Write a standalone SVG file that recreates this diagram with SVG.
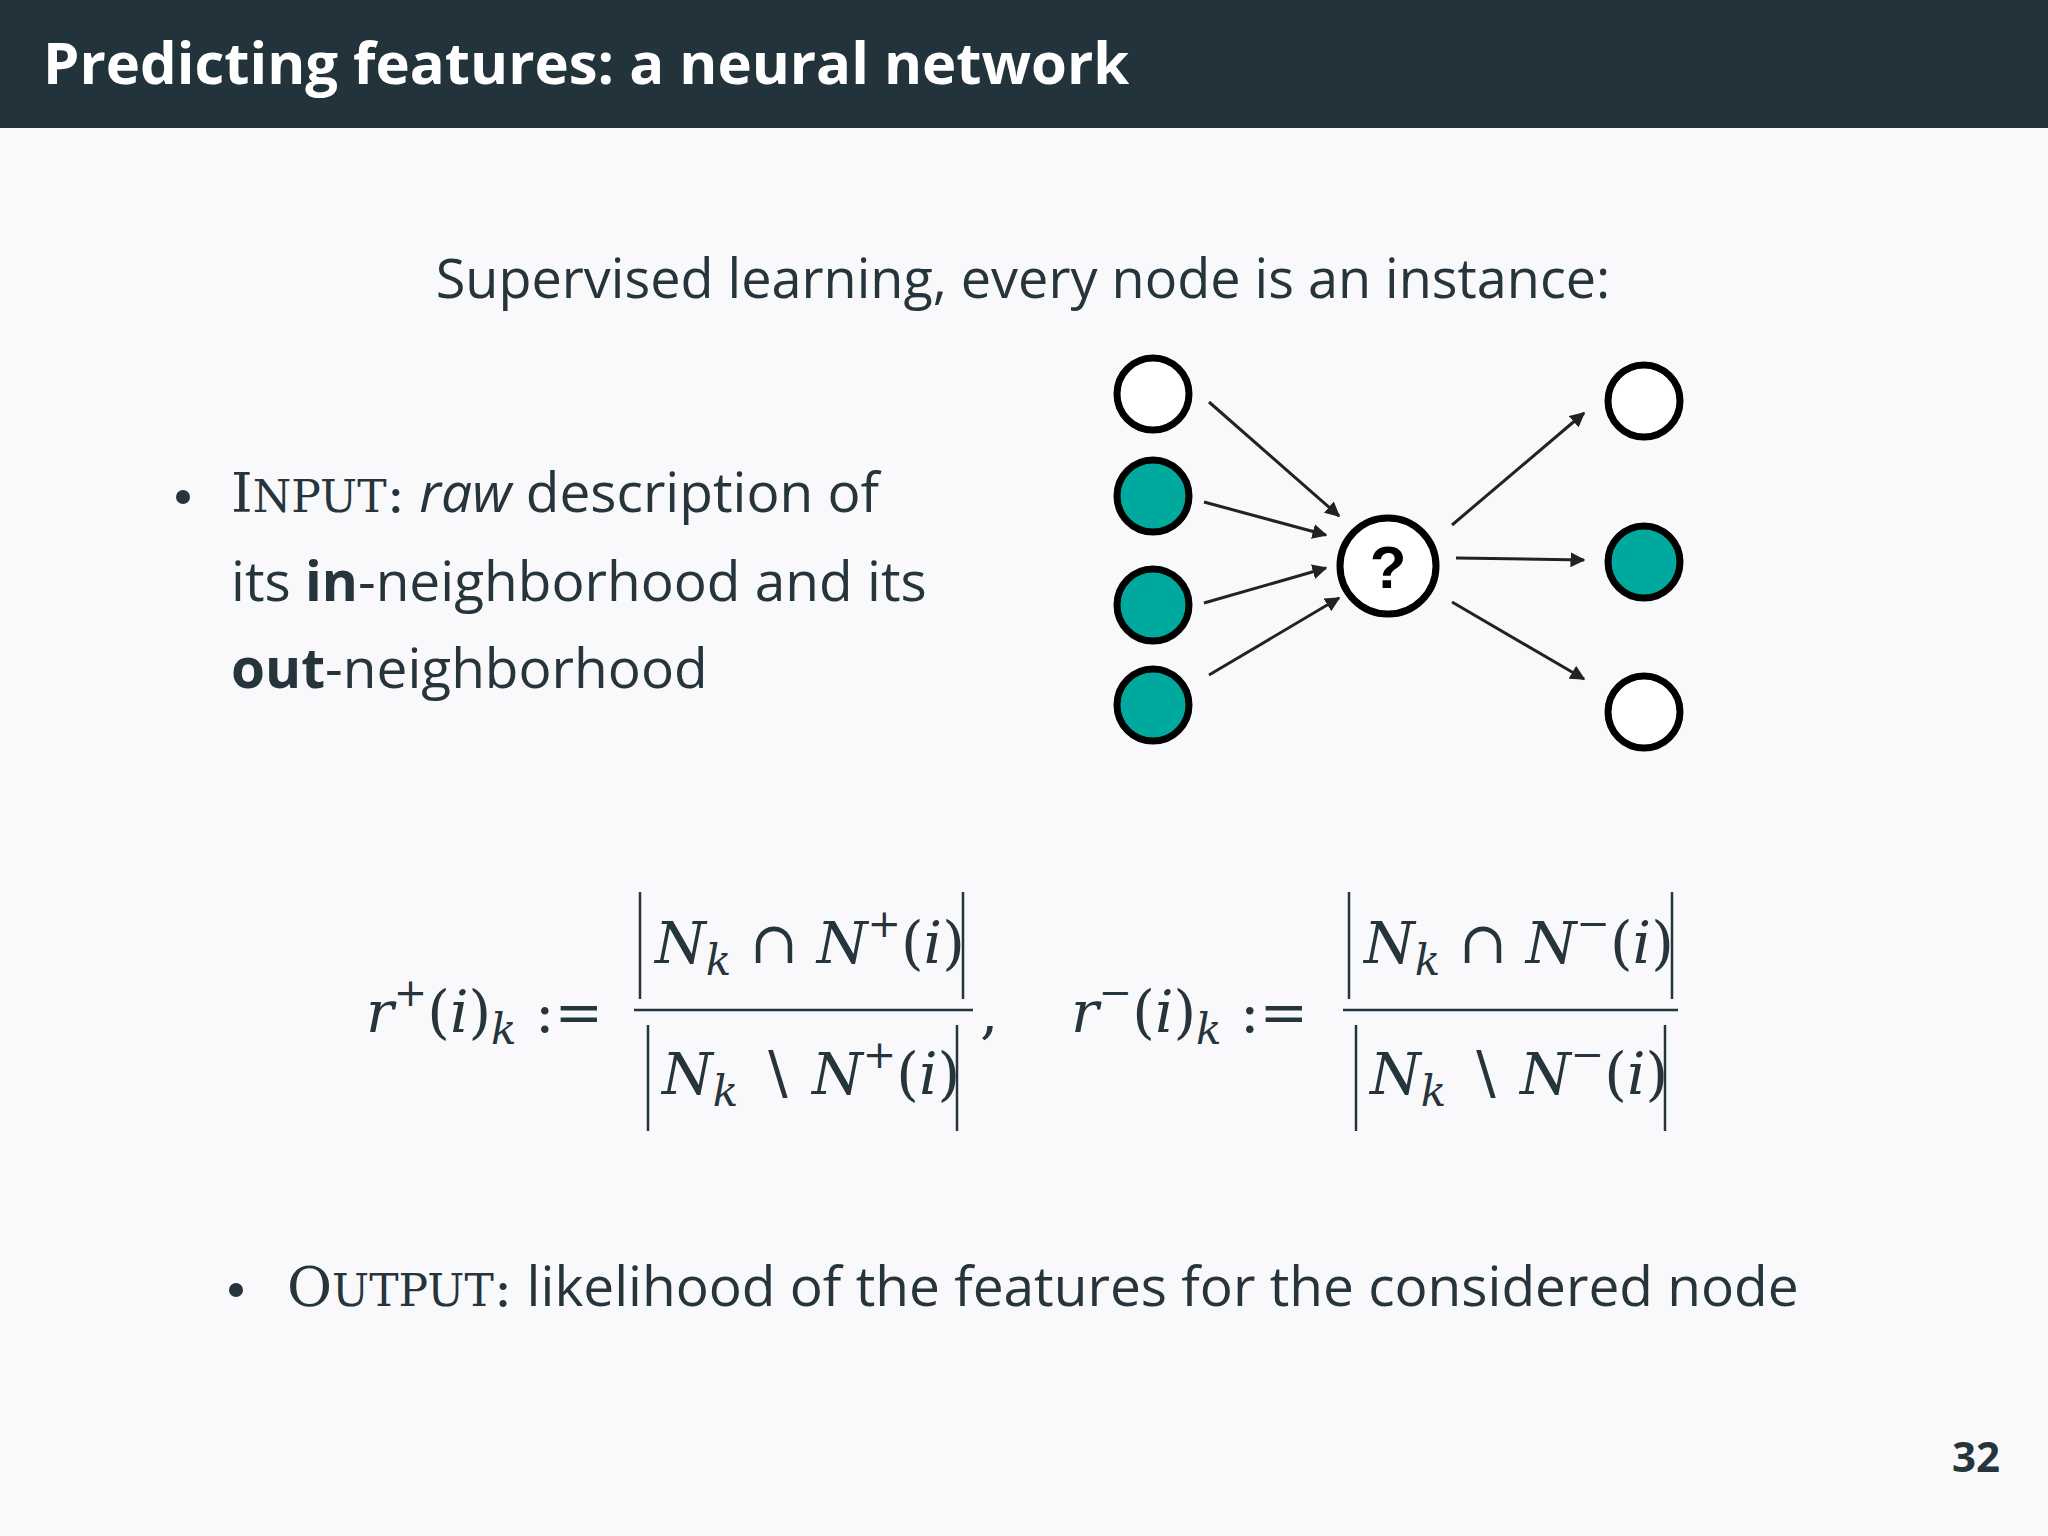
<svg xmlns="http://www.w3.org/2000/svg" width="2048" height="1536" viewBox="0 0 2048 1536">
<defs>
<marker id="ah" viewBox="0 0 10 10" refX="9" refY="5" markerWidth="5" markerHeight="5" orient="auto"><path d="M0,0 L10,5 L0,10 z" fill="#222"/></marker>
<style>
.t{font-family:"Open Sans","DejaVu Sans",sans-serif;fill:#26343c}
.m{font-family:"DejaVu Serif","Liberation Serif",serif;fill:#26343c;font-size:58px}
.i{font-style:italic}
.w{fill:#fff;stroke:#000;stroke-width:7}
.g{fill:#00a99d;stroke:#000;stroke-width:7}
.e{stroke:#222;stroke-width:3;fill:none;marker-end:url(#ah)}
.b{stroke:#26343c;stroke-width:2.5}
</style>
</defs>
<rect width="2048" height="1536" fill="#f9f9fc"/>
<rect width="2048" height="128" fill="#23333b"/>
<text x="43" y="84" font-family="'Open Sans','DejaVu Sans',sans-serif" font-size="58" font-weight="bold" fill="#fff">Predicting features: a neural network</text>
<text class="t" x="1023" y="298" font-size="54" text-anchor="middle">Supervised learning, every node is an instance:</text>
<circle cx="183" cy="497" r="7" fill="#26343c"/>
<text class="t" x="231" y="512" font-size="55"><tspan font-family="'DejaVu Serif',serif">I<tspan font-size="44">NPUT</tspan>:</tspan> <tspan font-style="italic">raw</tspan> description of</text>
<text class="t" x="231" y="601" font-size="55">its <tspan font-weight="bold">in</tspan>-neighborhood and its</text>
<text class="t" x="231" y="688" font-size="55"><tspan font-weight="bold">out</tspan>-neighborhood</text>
<g id="connectors">
<line class="e" x1="1209" y1="402" x2="1339" y2="516"/>
<line class="e" x1="1204" y1="502" x2="1326" y2="535"/>
<line class="e" x1="1204" y1="603" x2="1326" y2="568"/>
<line class="e" x1="1209" y1="675" x2="1339" y2="598"/>
<line class="e" x1="1452" y1="525" x2="1584" y2="413"/>
<line class="e" x1="1456" y1="558" x2="1584" y2="560"/>
<line class="e" x1="1452" y1="602" x2="1584" y2="679"/>
</g>
<g id="in1"><circle class="w" cx="1153" cy="394" r="36"/></g>
<g id="in2"><circle class="g" cx="1153" cy="496" r="36"/></g>
<g id="in3"><circle class="g" cx="1153" cy="605" r="36"/></g>
<g id="in4"><circle class="g" cx="1153" cy="705" r="36"/></g>
<g id="center"><circle class="w" cx="1388" cy="566" r="48"/><text x="1388" y="588" text-anchor="middle" font-family="'Liberation Sans',sans-serif" font-weight="bold" font-size="60">?</text></g>
<g id="out1"><circle class="w" cx="1644" cy="401" r="36"/></g>
<g id="out2"><circle class="g" cx="1644" cy="562" r="36"/></g>
<g id="out3"><circle class="w" cx="1644" cy="712" r="36"/></g>
<text class="m" x="366" y="1032"><tspan class="i">r</tspan><tspan font-size="40" dy="-26">+</tspan><tspan dy="26">(</tspan><tspan class="i">i</tspan>)<tspan class="i" font-size="42" dy="12">k</tspan><tspan dy="-12"> :=</tspan></text>
<line class="b" x1="634" y1="1010" x2="973" y2="1010"/>
<line class="b" x1="640" y1="892" x2="640" y2="999"/><line class="b" x1="963" y1="892" x2="963" y2="999"/>
<text class="m" x="655" y="963"><tspan class="i">N</tspan><tspan class="i" font-size="42" dy="12">k</tspan><tspan dy="-12"> ∩ </tspan><tspan class="i">N</tspan><tspan font-size="40" dy="-26">+</tspan><tspan dy="26">(</tspan><tspan class="i">i</tspan>)</text>
<line class="b" x1="648" y1="1025" x2="648" y2="1131"/><line class="b" x1="957" y1="1025" x2="957" y2="1131"/>
<text class="m" x="662" y="1094"><tspan class="i">N</tspan><tspan class="i" font-size="42" dy="12">k</tspan><tspan dy="-12"> ∖ </tspan><tspan class="i">N</tspan><tspan font-size="40" dy="-26">+</tspan><tspan dy="26">(</tspan><tspan class="i">i</tspan>)</text>
<text class="m" x="980" y="1032">,</text>
<text class="m" x="1071" y="1032"><tspan class="i">r</tspan><tspan font-size="40" dy="-26">−</tspan><tspan dy="26">(</tspan><tspan class="i">i</tspan>)<tspan class="i" font-size="42" dy="12">k</tspan><tspan dy="-12"> :=</tspan></text>
<line class="b" x1="1343" y1="1010" x2="1678" y2="1010"/>
<line class="b" x1="1349" y1="892" x2="1349" y2="999"/><line class="b" x1="1672" y1="892" x2="1672" y2="999"/>
<text class="m" x="1364" y="963"><tspan class="i">N</tspan><tspan class="i" font-size="42" dy="12">k</tspan><tspan dy="-12"> ∩ </tspan><tspan class="i">N</tspan><tspan font-size="40" dy="-26">−</tspan><tspan dy="26">(</tspan><tspan class="i">i</tspan>)</text>
<line class="b" x1="1356" y1="1025" x2="1356" y2="1131"/><line class="b" x1="1665" y1="1025" x2="1665" y2="1131"/>
<text class="m" x="1370" y="1094"><tspan class="i">N</tspan><tspan class="i" font-size="42" dy="12">k</tspan><tspan dy="-12"> ∖ </tspan><tspan class="i">N</tspan><tspan font-size="40" dy="-26">−</tspan><tspan dy="26">(</tspan><tspan class="i">i</tspan>)</text>
<circle cx="236" cy="1290" r="7" fill="#26343c"/>
<text class="t" x="287" y="1306" font-size="55"><tspan font-family="'DejaVu Serif',serif">O<tspan font-size="44">UTPUT</tspan>:</tspan> likelihood of the features for the considered node</text>
<text class="t" x="2000" y="1472" font-size="42" font-weight="bold" text-anchor="end">32</text>
</svg>
